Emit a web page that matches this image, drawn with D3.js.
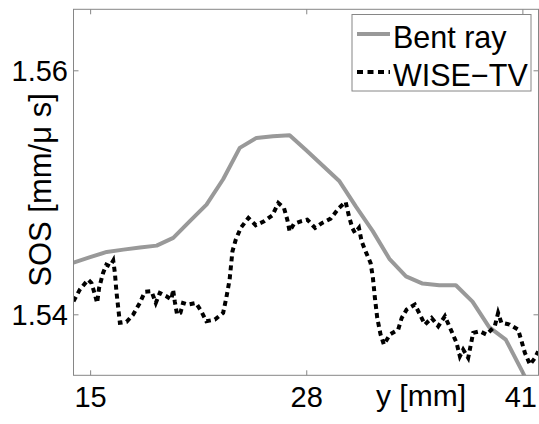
<!DOCTYPE html>
<html>
<head>
<meta charset="utf-8">
<script src="https://cdn.jsdelivr.net/npm/d3@7"></script>
<style>
  body { margin: 0; background: #fff; }
  text { font-family: "Liberation Sans", Arial, sans-serif; fill: #000; }
</style>
</head>
<body>
<div id="chart"></div>
<script>
// Data: SOS profile along y
const bentX = [14, 15, 16, 17, 18, 19, 20, 21, 22, 23, 24, 25, 26, 27, 28, 29, 30, 31, 32, 33, 34, 35, 36, 37, 38, 39, 40, 41, 42];
const bentSOS = [1.54424, 1.54468, 1.54511, 1.54530, 1.54547, 1.54563, 1.54626, 1.54763, 1.54899, 1.55107, 1.55364, 1.55446, 1.55460, 1.55467,
  1.55344, 1.55217, 1.55090, 1.54880, 1.54682, 1.54455, 1.54311, 1.54252, 1.54238, 1.54238, 1.54104, 1.53895, 1.53793, 1.53530, 1.5325];

const wiseX = [14.0, 14.38, 14.88, 15.08, 15.29, 15.42, 15.54, 15.78, 15.98, 16.19, 16.39, 16.49, 16.58, 16.69, 16.79, 17.19, 17.59, 17.99,
  18.29, 18.69, 18.95, 19.19, 19.59, 19.89, 19.99, 20.09, 20.23, 20.43, 20.59, 20.89, 21.36, 21.69, 21.99, 22.5, 23.0, 23.19, 23.39,
  23.56, 23.76, 24.06, 24.52, 24.96, 25.46, 25.96, 26.32, 26.66, 26.86, 27.0, 27.26, 27.67, 28.06, 28.53, 28.96, 29.47, 29.97, 30.37,
  30.57, 30.77, 30.93, 31.17, 31.33, 31.57, 31.87, 32.01, 32.13, 32.27, 32.47, 32.67, 33.03, 33.53, 33.74, 34.04, 34.53, 34.84, 35.14,
  35.54, 35.94, 36.34, 36.74, 37.04, 37.24, 37.44, 37.74, 37.9, 38.04, 38.44, 38.84, 39.34, 39.54, 39.74, 40.24, 40.74, 40.95, 41.15,
  41.46, 41.76, 41.95];
const wiseSOS = [1.54107, 1.54202, 1.54284, 1.54257, 1.54161, 1.54093, 1.54216, 1.54339, 1.54407, 1.54393, 1.54440, 1.54339, 1.54189,
  1.54052, 1.53930, 1.53938, 1.53998, 1.54093, 1.54184, 1.54189, 1.54093, 1.54175, 1.54148, 1.54121, 1.54202, 1.54107, 1.53998, 1.54011,
  1.54093, 1.54080, 1.54093, 1.54025, 1.53943, 1.53957, 1.54011, 1.54134, 1.54284, 1.54516, 1.54612, 1.54708, 1.54790, 1.54730, 1.54762,
  1.54811, 1.54913, 1.54872, 1.54776, 1.54680, 1.54741, 1.54762, 1.54776, 1.54708, 1.54749, 1.54784, 1.54872, 1.54921, 1.54803, 1.54708,
  1.54667, 1.54708, 1.54598, 1.54516, 1.54421, 1.54298, 1.54134, 1.53970, 1.53834, 1.53752, 1.53834, 1.53875, 1.53970, 1.54039, 1.54080,
  1.53998, 1.53916, 1.53970, 1.53902, 1.53984, 1.53861, 1.53766, 1.53656, 1.53711, 1.53643, 1.53752, 1.53848, 1.53861, 1.53834, 1.53902,
  1.54011, 1.53930, 1.53916, 1.53875, 1.53780, 1.53684, 1.53588, 1.53643, 1.53697];

const xTicks = [15, 28, 41];
const yTicks = [1.54, 1.56];
const seriesNames = ["Bent ray", "WISE\u2212TV"];

// Size
const W = 539, H = 424;
const grey = "#999999";
const frame = "#868686";

const svg = d3.select("#chart")
  .append("svg")
  .attr("width", W)
  .attr("height", H);

// Scales
const x = d3.scaleLinear().domain([14, 42]).range([73.5, 539]);
const y = d3.scaleLinear().domain([1.535, 1.565]).range([375.3, 9.3]);

const pLeft = x(14), pRight = x(42) - 0.5, pTop = y(1.565), pBottom = y(1.535);

// Clip for the lines
svg.append("clipPath").attr("id", "clip")
  .append("rect")
  .attr("x", pLeft).attr("y", pTop)
  .attr("width", pRight - pLeft).attr("height", pBottom - pTop);

// Lines
const line = d3.line()
  .x(d => x(d[0]))
  .y(d => y(d[1]));

const plot = svg.append("g").attr("clip-path", "url(#clip)");

plot.append("path")
  .datum(d3.zip(bentX, bentSOS))
  .attr("fill", "none")
  .attr("stroke", grey)
  .attr("stroke-width", 4)
  .attr("stroke-linejoin", "round")
  .attr("d", line);

plot.append("path")
  .datum(d3.zip(wiseX, wiseSOS))
  .attr("fill", "none")
  .attr("stroke", "#000")
  .attr("stroke-width", 4)
  .attr("stroke-dasharray", "5,4")
  .attr("d", line);

// Axes (ticks inside, mirrored on all sides)
const tickLen = 5;
const bottomAxis = d3.axisBottom(x).tickValues(xTicks).tickSize(-tickLen).tickFormat("");
const topAxis = d3.axisTop(x).tickValues(xTicks).tickSize(-tickLen).tickFormat("");
const leftAxis = d3.axisLeft(y).tickValues(yTicks).tickSize(-tickLen).tickFormat("");
const rightAxis = d3.axisRight(y).tickValues(yTicks).tickSize(-tickLen).tickFormat("");

[[bottomAxis, `translate(0,${pBottom})`], [topAxis, `translate(0,${pTop})`],
 [leftAxis, `translate(${pLeft},0)`], [rightAxis, `translate(${pRight},0)`]].forEach(([ax, tr]) => {
  const g = svg.append("g").attr("transform", tr).call(ax);
  g.select(".domain").remove();
  g.selectAll("line").attr("stroke", frame);
});

// Box
svg.append("rect")
  .attr("x", pLeft).attr("y", pTop)
  .attr("width", pRight - pLeft).attr("height", pBottom - pTop)
  .attr("fill", "none")
  .attr("stroke", frame)
  .attr("stroke-width", 1);

// Tick labels
svg.selectAll(".xlab")
  .data(xTicks)
  .enter().append("text")
  .attr("x", (d, i) => x(d) + (i === xTicks.length - 1 ? -1.5 : 0.5))
  .attr("y", 407)
  .attr("text-anchor", "middle")
  .attr("font-size", 29)
  .text(d => d);

svg.selectAll(".ylab")
  .data(yTicks)
  .enter().append("text")
  .attr("x", 68)
  .attr("y", d => y(d) + 10.5)
  .attr("text-anchor", "end")
  .attr("font-size", 29)
  .text(d => d.toFixed(2));

// Axis labels
svg.append("text")
  .attr("x", 376)
  .attr("y", 406)
  .attr("font-size", 30)
  .text("y [mm]");

svg.append("text")
  .attr("transform", `translate(51,190) rotate(-90)`)
  .attr("text-anchor", "middle")
  .attr("font-size", 31)
  .text("SOS [mm/\u03bc s]");

// Legend
const lg = svg.append("g");
lg.append("rect")
  .attr("x", 352).attr("y", 14.5)
  .attr("width", 179).attr("height", 76.5)
  .attr("fill", "#fff")
  .attr("stroke", frame);

const rows = [
  { name: seriesNames[0], color: grey, dash: null, cy: 34 },
  { name: seriesNames[1], color: "#000", dash: "6,4.5", cy: 72 }
];
rows.forEach(r => {
  lg.append("line")
    .attr("x1", 357).attr("x2", 390)
    .attr("y1", r.cy).attr("y2", r.cy)
    .attr("stroke", r.color)
    .attr("stroke-width", 4)
    .attr("stroke-dasharray", r.dash);
  lg.append("text")
    .attr("x", 393)
    .attr("y", r.cy + 14)
    .attr("font-size", 30.5)
    .text(r.name);
});
</script>
</body>
</html>
